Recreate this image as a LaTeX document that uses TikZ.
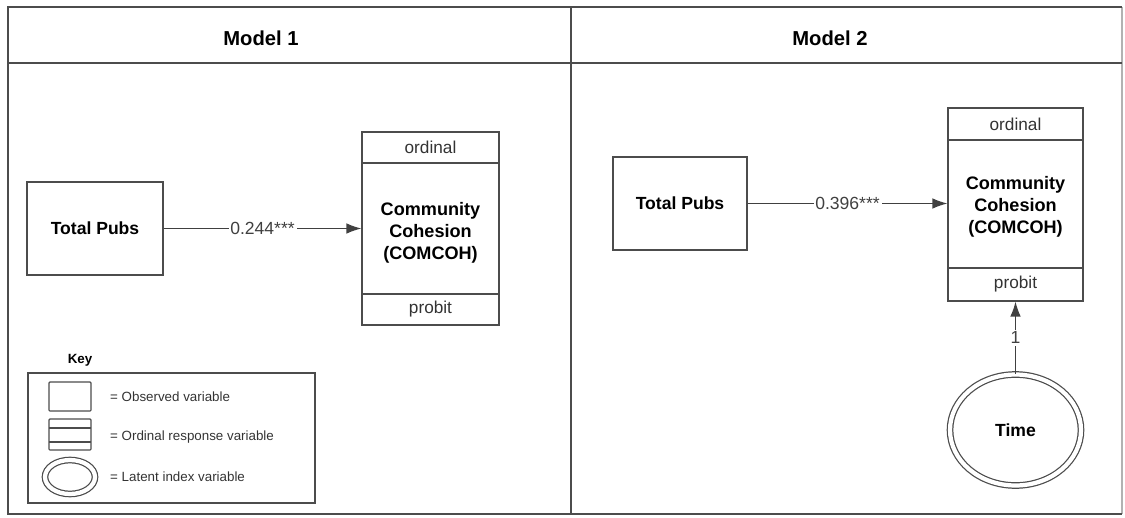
\documentclass[tikz,border=0pt]{standalone}
\usepackage{fontspec}
\setmainfont{Liberation Sans}
\usetikzlibrary{arrows.meta,shapes.geometric}

\tikzset{
  frame/.style={draw=black!70, line width=1.1pt},
  box/.style={draw=black!70, line width=0.7pt},
  obsbox/.style={box, minimum width=2.72cm, minimum height=1.86cm, inner sep=0pt, font=\bfseries\fontsize{10}{12}\selectfont},
  ordbox/.style={box, minimum height=3.86cm, inner sep=0pt},
  latent/.style={ellipse, box, double, double distance=2.4pt, inner sep=0pt},
  path/.style={draw=black!75, line width=0.7pt, -{Latex[length=8.5pt,width=6pt]}},
  coef/.style={fill=white, inner sep=1pt, text=black!75, font=\fontsize{10}{12}\selectfont},
  small/.style={font=\fontsize{9.8}{11}\selectfont, text=black!80},
  keytext/.style={anchor=west, font=\fontsize{7.6}{9}\selectfont, text=black!80}
}

\begin{document}
\begin{tikzpicture}[x=0.02cm, y=-0.02cm]
  \useasboundingbox (0,0) rectangle (1125,517);
  % Outer frame and panel headers
  \draw[draw=black!30, line width=0.6pt] (1122,7) -- (1122,514);
  \draw[frame] (1122,7) -- (8,7) -- (8,514) -- (1122,514);
  \draw[frame] (8,63) -- (1122,63);
  \draw[frame] (571,7) -- (571,514);
  \node[font=\bfseries\fontsize{11.5}{13}\selectfont] (hdone) at (261,38) {Model 1};
  \node[font=\bfseries\fontsize{11.5}{13}\selectfont] (hdtwo) at (830,38) {Model 2};

  % Model 1
  \node[obsbox] (tpone) at (95,228.5) {Total Pubs};
  \node[ordbox, minimum width=2.74cm] (cohone) at (430.5,228.5) {};
  \draw[box] (362,163) -- (499,163);
  \draw[box] (362,294) -- (499,294);
  \node[small] (ordone) at (430.5,147.5) {ordinal};
  \node[small] (probone) at (430.5,309.5) {probit};
  \node[align=center, font=\bfseries\fontsize{10.3}{12.5}\selectfont] (txtone) at (430.5,233) {Community\\Cohesion\\(COMCOH)};
  \draw[path] (tpone.east) -- node[coef] {0.244***} (cohone.west);

  % Key
  \node[font=\bfseries\fontsize{7.6}{9}\selectfont] (keylbl) at (80,360) {Key};
  \draw[box] (28,373) rectangle (315,503);
  \draw[box, rounded corners=0.5pt] (49,382) rectangle (91,411);
  \draw[box, rounded corners=0.5pt] (49,419) rectangle (91,450);
  \draw[box] (49,428) -- (91,428);
  \draw[box] (49,442) -- (91,442);
  \node[latent, minimum width=1.0cm, minimum height=0.68cm] (keyell) at (70,477) {};
  \node[keytext] (keyobs) at (104,397) {= Observed variable};
  \node[keytext] (keyord) at (104,437) {= Ordinal response variable};
  \node[keytext] (keylat) at (104,477) {= Latent index variable};

  % Model 2
  \node[obsbox, minimum width=2.68cm] (tptwo) at (680,203.5) {Total Pubs};
  \node[ordbox, minimum width=2.7cm] (cohtwo) at (1015.5,204.5) {};
  \draw[box] (948,140) -- (1083,140);
  \draw[box] (948,268) -- (1083,268);
  \node[small] (ordtwo) at (1015.5,124) {ordinal};
  \node[small] (probtwo) at (1015.5,284.5) {probit};
  \node[align=center, font=\bfseries\fontsize{10.3}{12.5}\selectfont] (txttwo) at (1015.5,207) {Community\\Cohesion\\(COMCOH)};
  \draw[path] (tptwo.east) -- node[coef] {0.396***} (tptwo.east -| cohtwo.west);
  \node[latent, minimum width=2.62cm, minimum height=2.22cm, font=\bfseries\fontsize{10}{12}\selectfont] (time) at (1015.5,430) {Time};
  \draw[path] (time.north) -- node[coef, pos=0.5] {1} (time.north |- cohtwo.south);
\end{tikzpicture}
\end{document}
